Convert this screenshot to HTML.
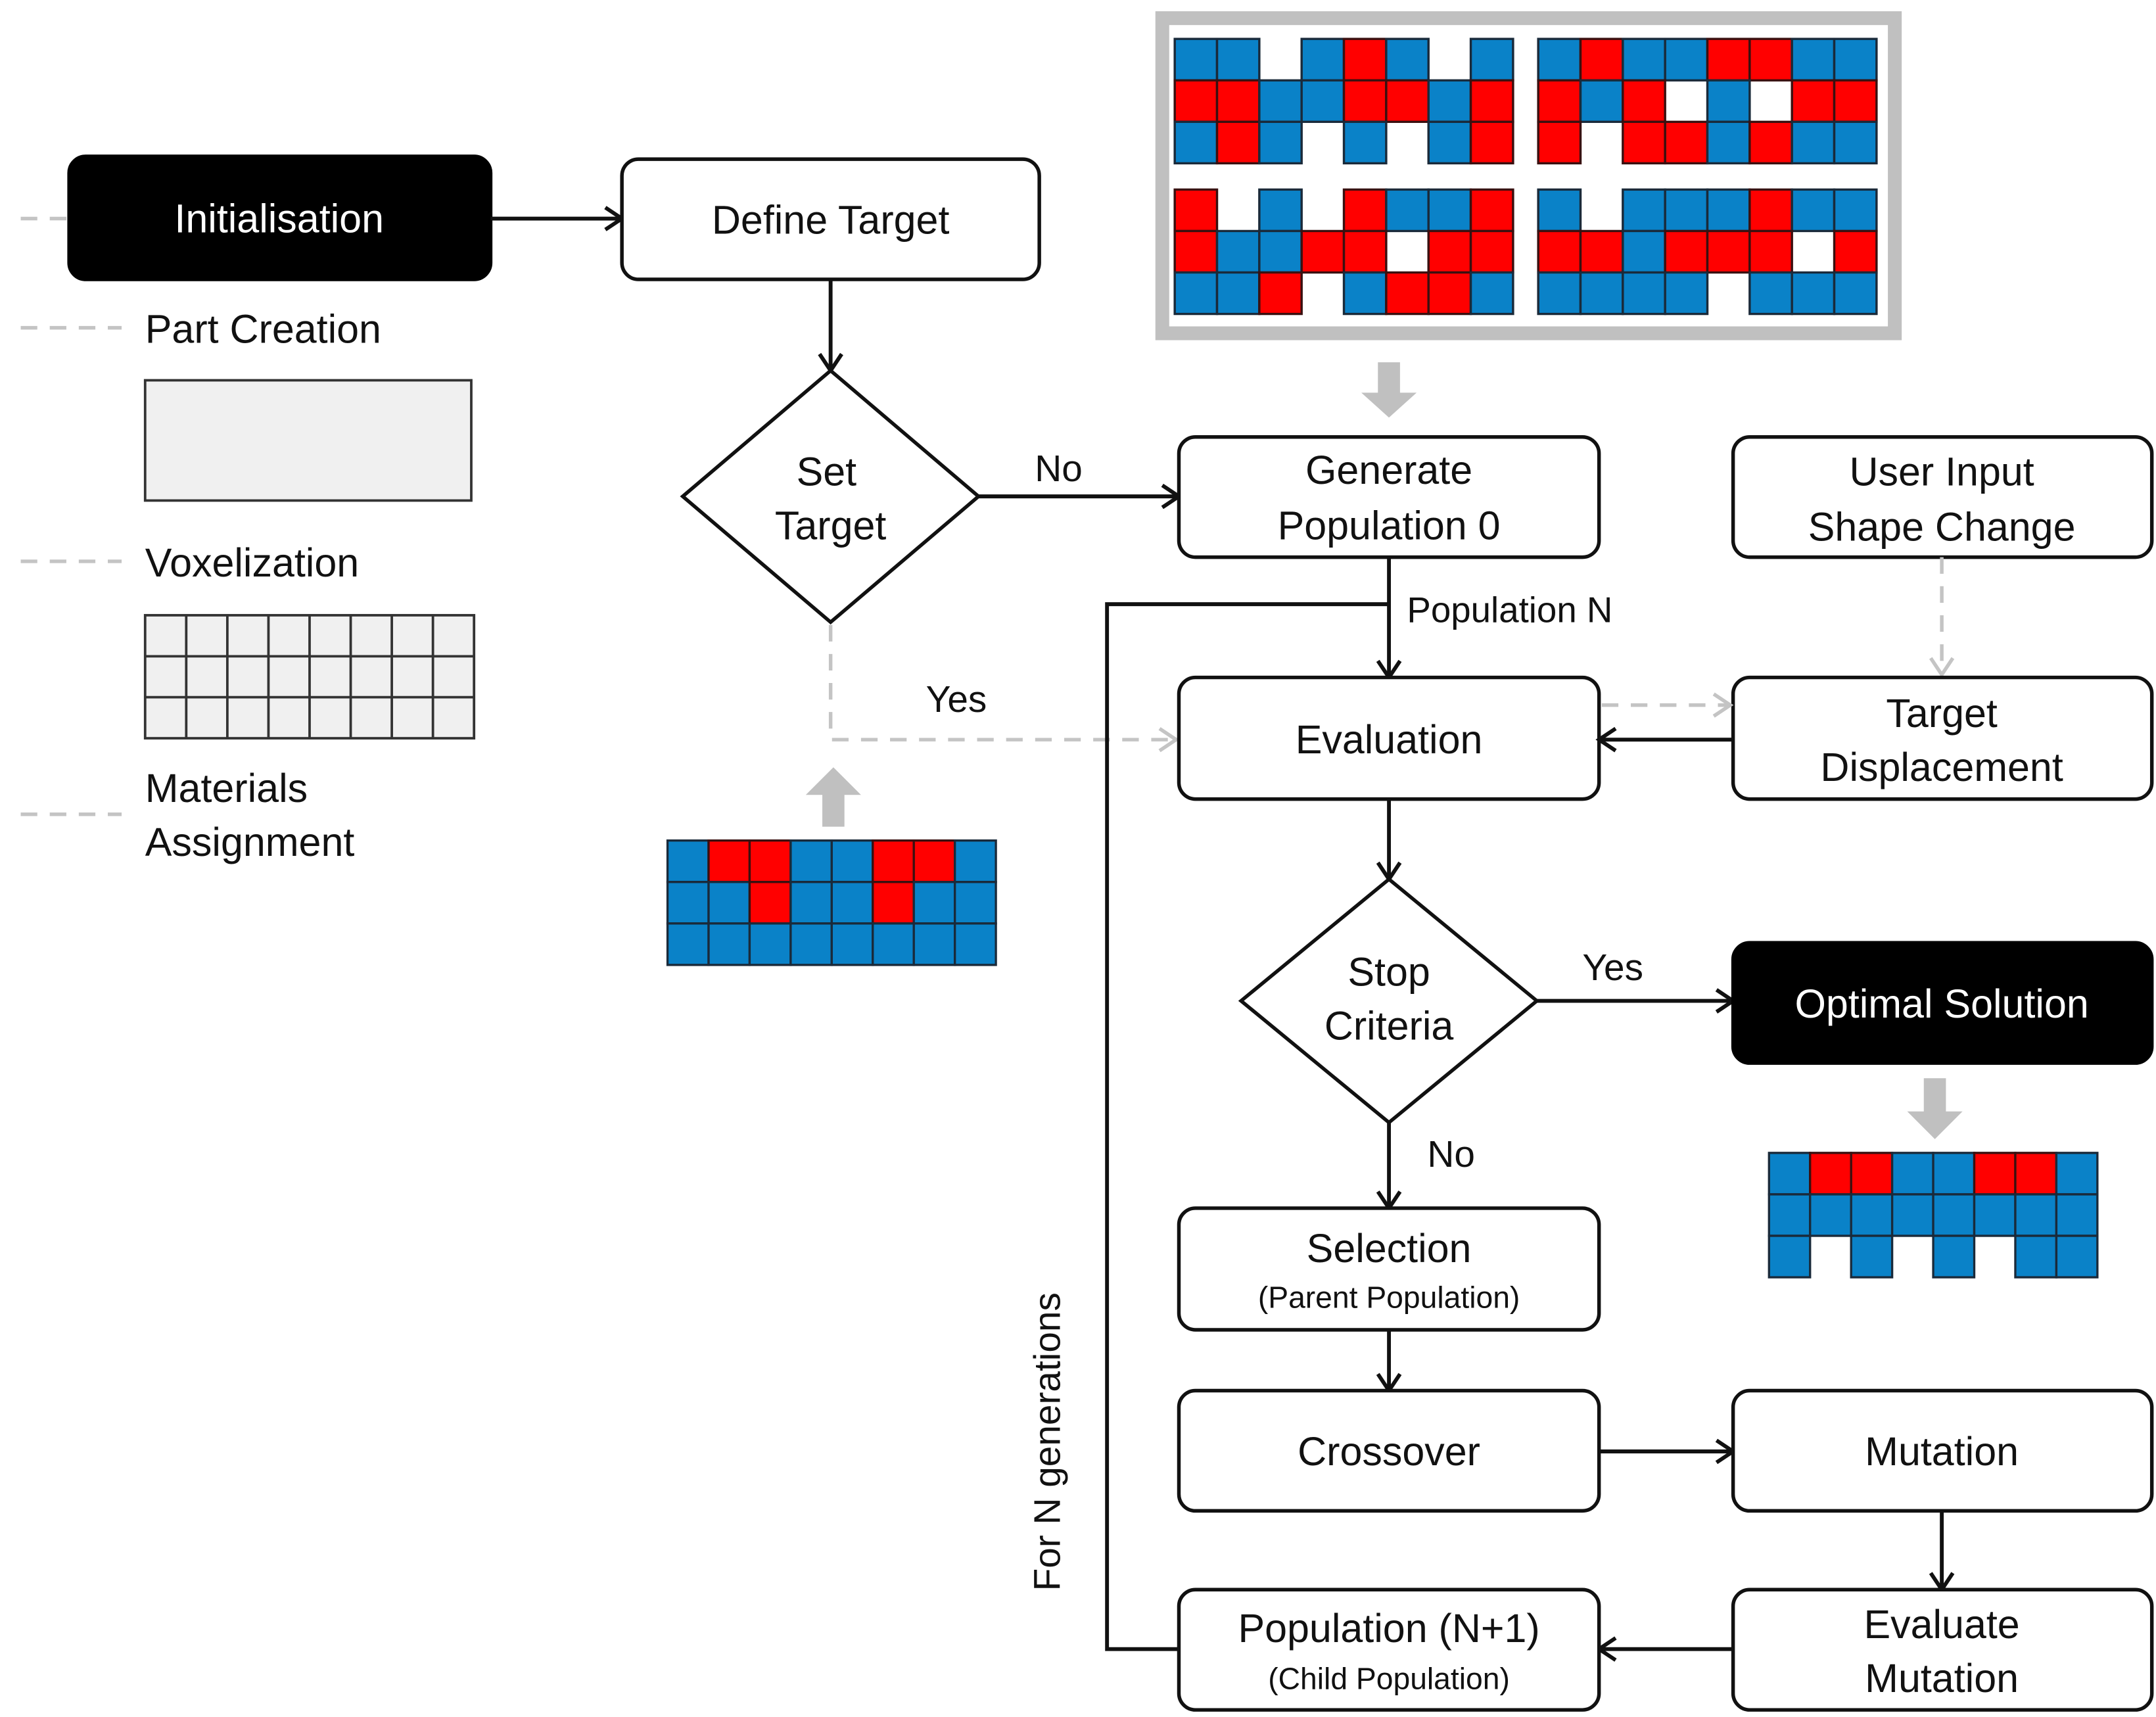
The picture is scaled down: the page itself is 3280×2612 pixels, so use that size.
<!DOCTYPE html>
<html><head><meta charset="utf-8"><style>
html,body{margin:0;padding:0;background:#fff;}
svg{display:block;}
text{font-family:"Liberation Sans",Arial,sans-serif;fill:#111;}
.b{fill:#0a82c8;stroke:#1a2a3a;stroke-width:1.6}
.r{fill:#ff0000;stroke:#3a1010;stroke-width:1.6}
.box{fill:#fff;stroke:#111;stroke-width:2.6}
.blk{fill:#000;stroke:#000;stroke-width:2.6}
.ln{stroke:#111;stroke-width:2.8;fill:none}
.gd{stroke:#c4c4c4;stroke-width:2.6;fill:none;stroke-dasharray:12 9}
.lg{fill:#f0f0f0;stroke:#333;stroke-width:1.8}
</style></head><body>
<svg width="3280" height="2612" viewBox="0 0 1560 1242" xmlns="http://www.w3.org/2000/svg">
<defs>
<marker id="a" markerWidth="20" markerHeight="20" refX="17" refY="10" orient="auto" markerUnits="userSpaceOnUse"><path d="M5,2 L17,10 L5,18" fill="none" stroke="#111" stroke-width="2.8"/></marker>
<marker id="g" markerWidth="20" markerHeight="20" refX="17" refY="10" orient="auto" markerUnits="userSpaceOnUse"><path d="M5,2 L17,10 L5,18" fill="none" stroke="#c4c4c4" stroke-width="2.6"/></marker>
</defs>

<!-- Legend -->
<line x1="15" y1="158" x2="50" y2="158" class="gd"/>
<line x1="15" y1="237" x2="88" y2="237" class="gd"/>
<line x1="15" y1="406" x2="88" y2="406" class="gd"/>
<line x1="15" y1="589" x2="88" y2="589" class="gd"/>
<rect x="50" y="113" width="305" height="89" rx="12" class="blk"/>
<text x="202" y="168" font-size="29" text-anchor="middle" style="fill:#fff">Initialisation</text>
<text x="105" y="248" font-size="29">Part Creation</text>
<rect x="105" y="275" width="236" height="87" class="lg"/>
<text x="105" y="417" font-size="29">Voxelization</text>
<g transform="translate(105,445)">
<rect width="238" height="89" class="lg"/>
<path d="M29.75,0V89M59.5,0V89M89.25,0V89M119,0V89M148.75,0V89M178.5,0V89M208.25,0V89M0,29.7H238M0,59.3H238" stroke="#333" stroke-width="1.8"/>
</g>
<text x="105" y="580" font-size="29">Materials</text>
<text x="105" y="619" font-size="29">Assignment</text>

<!-- Top image -->
<rect x="841" y="13" width="530" height="228" fill="#fff" stroke="#c0c0c0" stroke-width="10"/>
<g transform="translate(850,28) scale(1.02,1)">
<rect x="0" y="0" width="30" height="30" class="b"/><rect x="30" y="0" width="30" height="30" class="b"/><rect x="90" y="0" width="30" height="30" class="b"/><rect x="120" y="0" width="30" height="30" class="r"/><rect x="150" y="0" width="30" height="30" class="b"/><rect x="210" y="0" width="30" height="30" class="b"/>
<rect x="0" y="30" width="30" height="30" class="r"/><rect x="30" y="30" width="30" height="30" class="r"/><rect x="60" y="30" width="30" height="30" class="b"/><rect x="90" y="30" width="30" height="30" class="b"/><rect x="120" y="30" width="30" height="30" class="r"/><rect x="150" y="30" width="30" height="30" class="r"/><rect x="180" y="30" width="30" height="30" class="b"/><rect x="210" y="30" width="30" height="30" class="r"/>
<rect x="0" y="60" width="30" height="30" class="b"/><rect x="30" y="60" width="30" height="30" class="r"/><rect x="60" y="60" width="30" height="30" class="b"/><rect x="120" y="60" width="30" height="30" class="b"/><rect x="180" y="60" width="30" height="30" class="b"/><rect x="210" y="60" width="30" height="30" class="r"/>
</g>
<g transform="translate(1113,28) scale(1.02,1)">
<rect x="0" y="0" width="30" height="30" class="b"/><rect x="30" y="0" width="30" height="30" class="r"/><rect x="60" y="0" width="30" height="30" class="b"/><rect x="90" y="0" width="30" height="30" class="b"/><rect x="120" y="0" width="30" height="30" class="r"/><rect x="150" y="0" width="30" height="30" class="r"/><rect x="180" y="0" width="30" height="30" class="b"/><rect x="210" y="0" width="30" height="30" class="b"/>
<rect x="0" y="30" width="30" height="30" class="r"/><rect x="30" y="30" width="30" height="30" class="b"/><rect x="60" y="30" width="30" height="30" class="r"/><rect x="120" y="30" width="30" height="30" class="b"/><rect x="180" y="30" width="30" height="30" class="r"/><rect x="210" y="30" width="30" height="30" class="r"/>
<rect x="0" y="60" width="30" height="30" class="r"/><rect x="60" y="60" width="30" height="30" class="r"/><rect x="90" y="60" width="30" height="30" class="r"/><rect x="120" y="60" width="30" height="30" class="b"/><rect x="150" y="60" width="30" height="30" class="r"/><rect x="180" y="60" width="30" height="30" class="b"/><rect x="210" y="60" width="30" height="30" class="b"/>
</g>
<g transform="translate(850,137) scale(1.02,1)">
<rect x="0" y="0" width="30" height="30" class="r"/><rect x="60" y="0" width="30" height="30" class="b"/><rect x="120" y="0" width="30" height="30" class="r"/><rect x="150" y="0" width="30" height="30" class="b"/><rect x="180" y="0" width="30" height="30" class="b"/><rect x="210" y="0" width="30" height="30" class="r"/>
<rect x="0" y="30" width="30" height="30" class="r"/><rect x="30" y="30" width="30" height="30" class="b"/><rect x="60" y="30" width="30" height="30" class="b"/><rect x="90" y="30" width="30" height="30" class="r"/><rect x="120" y="30" width="30" height="30" class="r"/><rect x="180" y="30" width="30" height="30" class="r"/><rect x="210" y="30" width="30" height="30" class="r"/>
<rect x="0" y="60" width="30" height="30" class="b"/><rect x="30" y="60" width="30" height="30" class="b"/><rect x="60" y="60" width="30" height="30" class="r"/><rect x="120" y="60" width="30" height="30" class="b"/><rect x="150" y="60" width="30" height="30" class="r"/><rect x="180" y="60" width="30" height="30" class="r"/><rect x="210" y="60" width="30" height="30" class="b"/>
</g>
<g transform="translate(1113,137) scale(1.02,1)">
<rect x="0" y="0" width="30" height="30" class="b"/><rect x="60" y="0" width="30" height="30" class="b"/><rect x="90" y="0" width="30" height="30" class="b"/><rect x="120" y="0" width="30" height="30" class="b"/><rect x="150" y="0" width="30" height="30" class="r"/><rect x="180" y="0" width="30" height="30" class="b"/><rect x="210" y="0" width="30" height="30" class="b"/>
<rect x="0" y="30" width="30" height="30" class="r"/><rect x="30" y="30" width="30" height="30" class="r"/><rect x="60" y="30" width="30" height="30" class="b"/><rect x="90" y="30" width="30" height="30" class="r"/><rect x="120" y="30" width="30" height="30" class="r"/><rect x="150" y="30" width="30" height="30" class="r"/><rect x="210" y="30" width="30" height="30" class="r"/>
<rect x="0" y="60" width="30" height="30" class="b"/><rect x="30" y="60" width="30" height="30" class="b"/><rect x="60" y="60" width="30" height="30" class="b"/><rect x="90" y="60" width="30" height="30" class="b"/><rect x="150" y="60" width="30" height="30" class="b"/><rect x="180" y="60" width="30" height="30" class="b"/><rect x="210" y="60" width="30" height="30" class="b"/>
</g>
<path d="M997,262H1013V284H1025L1005,302L985,284H997Z" fill="#c0c0c0"/>

<!-- Define target / set target -->
<line x1="355" y1="158" x2="450" y2="158" class="ln" marker-end="url(#a)"/>
<rect x="450" y="115" width="302" height="87" rx="12" class="box"/>
<text x="601" y="169" font-size="29" text-anchor="middle">Define Target</text>
<line x1="601" y1="202" x2="601" y2="268" class="ln" marker-end="url(#a)"/>
<path d="M601,268 L708,359 L601,450 L494,359 Z" class="box"/>
<text x="598" y="351" font-size="29" text-anchor="middle">Set</text>
<text x="601" y="390" font-size="29" text-anchor="middle">Target</text>
<text x="766" y="348" font-size="27" text-anchor="middle">No</text>
<line x1="708" y1="359" x2="853" y2="359" class="ln" marker-end="url(#a)"/>
<path d="M601,452 V535 H851" class="gd" marker-end="url(#g)"/>
<text x="692" y="515" font-size="27" text-anchor="middle">Yes</text>
<path d="M603,555L623,575H611V598H595V575H583Z" fill="#c0c0c0"/>
<g transform="translate(483,608) scale(0.99,1)">
<rect x="0" y="0" width="30" height="30" class="b"/><rect x="30" y="0" width="30" height="30" class="r"/><rect x="60" y="0" width="30" height="30" class="r"/><rect x="90" y="0" width="30" height="30" class="b"/><rect x="120" y="0" width="30" height="30" class="b"/><rect x="150" y="0" width="30" height="30" class="r"/><rect x="180" y="0" width="30" height="30" class="r"/><rect x="210" y="0" width="30" height="30" class="b"/>
<rect x="0" y="30" width="30" height="30" class="b"/><rect x="30" y="30" width="30" height="30" class="b"/><rect x="60" y="30" width="30" height="30" class="r"/><rect x="90" y="30" width="30" height="30" class="b"/><rect x="120" y="30" width="30" height="30" class="b"/><rect x="150" y="30" width="30" height="30" class="r"/><rect x="180" y="30" width="30" height="30" class="b"/><rect x="210" y="30" width="30" height="30" class="b"/>
<rect x="0" y="60" width="30" height="30" class="b"/><rect x="30" y="60" width="30" height="30" class="b"/><rect x="60" y="60" width="30" height="30" class="b"/><rect x="90" y="60" width="30" height="30" class="b"/><rect x="120" y="60" width="30" height="30" class="b"/><rect x="150" y="60" width="30" height="30" class="b"/><rect x="180" y="60" width="30" height="30" class="b"/><rect x="210" y="60" width="30" height="30" class="b"/>
</g>

<!-- Generate / user input -->
<rect x="853" y="316" width="304" height="87" rx="12" class="box"/>
<text x="1005" y="350" font-size="29" text-anchor="middle">Generate</text>
<text x="1005" y="390" font-size="29" text-anchor="middle">Population 0</text>
<rect x="1254" y="316" width="303" height="87" rx="12" class="box"/>
<text x="1405" y="351" font-size="29" text-anchor="middle">User Input</text>
<text x="1405" y="391" font-size="29" text-anchor="middle">Shape Change</text>
<line x1="1405" y1="403" x2="1405" y2="488" class="gd" marker-end="url(#g)"/>

<line x1="1005" y1="403" x2="1005" y2="490" class="ln" marker-end="url(#a)"/>
<text x="1018" y="450" font-size="26">Population N</text>
<path d="M1005,437 H801 V1193 H853" class="ln"/>
<text transform="translate(767,1043) rotate(-90)" font-size="27" text-anchor="middle">For N generations</text>

<rect x="853" y="490" width="304" height="88" rx="12" class="box"/>
<text x="1005" y="545" font-size="29" text-anchor="middle">Evaluation</text>
<rect x="1254" y="490" width="303" height="88" rx="12" class="box"/>
<text x="1405" y="526" font-size="29" text-anchor="middle">Target</text>
<text x="1405" y="565" font-size="29" text-anchor="middle">Displacement</text>
<line x1="1159" y1="510" x2="1252" y2="510" class="gd" marker-end="url(#g)"/>
<line x1="1254" y1="535" x2="1157" y2="535" class="ln" marker-end="url(#a)"/>
<line x1="1005" y1="578" x2="1005" y2="636" class="ln" marker-end="url(#a)"/>

<!-- Stop -->
<path d="M1005,636 L1112,724 L1005,812 L898,724 Z" class="box"/>
<text x="1005" y="713" font-size="29" text-anchor="middle">Stop</text>
<text x="1005" y="752" font-size="29" text-anchor="middle">Criteria</text>
<text x="1167" y="709" font-size="27" text-anchor="middle">Yes</text>
<line x1="1112" y1="724" x2="1254" y2="724" class="ln" marker-end="url(#a)"/>
<rect x="1254" y="682" width="303" height="87" rx="12" class="blk"/>
<text x="1405" y="736" font-size="29" text-anchor="middle" style="fill:#fff">Optimal Solution</text>
<path d="M1392,780H1408V804H1420L1400,824L1380,804H1392Z" fill="#c0c0c0"/>
<g transform="translate(1280,834) scale(0.99,1)">
<rect x="0" y="0" width="30" height="30" class="b"/><rect x="30" y="0" width="30" height="30" class="r"/><rect x="60" y="0" width="30" height="30" class="r"/><rect x="90" y="0" width="30" height="30" class="b"/><rect x="120" y="0" width="30" height="30" class="b"/><rect x="150" y="0" width="30" height="30" class="r"/><rect x="180" y="0" width="30" height="30" class="r"/><rect x="210" y="0" width="30" height="30" class="b"/>
<rect x="0" y="30" width="30" height="30" class="b"/><rect x="30" y="30" width="30" height="30" class="b"/><rect x="60" y="30" width="30" height="30" class="b"/><rect x="90" y="30" width="30" height="30" class="b"/><rect x="120" y="30" width="30" height="30" class="b"/><rect x="150" y="30" width="30" height="30" class="b"/><rect x="180" y="30" width="30" height="30" class="b"/><rect x="210" y="30" width="30" height="30" class="b"/>
<rect x="0" y="60" width="30" height="30" class="b"/><rect x="60" y="60" width="30" height="30" class="b"/><rect x="120" y="60" width="30" height="30" class="b"/><rect x="180" y="60" width="30" height="30" class="b"/><rect x="210" y="60" width="30" height="30" class="b"/>
</g>

<text x="1050" y="844" font-size="27" text-anchor="middle">No</text>
<line x1="1005" y1="812" x2="1005" y2="874" class="ln" marker-end="url(#a)"/>
<rect x="853" y="874" width="304" height="88" rx="12" class="box"/>
<text x="1005" y="913" font-size="29" text-anchor="middle">Selection</text>
<text x="1005" y="946" font-size="22" text-anchor="middle">(Parent Population)</text>
<line x1="1005" y1="962" x2="1005" y2="1006" class="ln" marker-end="url(#a)"/>
<rect x="853" y="1006" width="304" height="87" rx="12" class="box"/>
<text x="1005" y="1060" font-size="29" text-anchor="middle">Crossover</text>
<line x1="1157" y1="1050" x2="1254" y2="1050" class="ln" marker-end="url(#a)"/>
<rect x="1254" y="1006" width="303" height="87" rx="12" class="box"/>
<text x="1405" y="1060" font-size="29" text-anchor="middle">Mutation</text>
<line x1="1405" y1="1093" x2="1405" y2="1150" class="ln" marker-end="url(#a)"/>
<rect x="1254" y="1150" width="303" height="87" rx="12" class="box"/>
<text x="1405" y="1185" font-size="29" text-anchor="middle">Evaluate</text>
<text x="1405" y="1224" font-size="29" text-anchor="middle">Mutation</text>
<line x1="1254" y1="1193" x2="1157" y2="1193" class="ln" marker-end="url(#a)"/>
<rect x="853" y="1150" width="304" height="87" rx="12" class="box"/>
<text x="1005" y="1188" font-size="29" text-anchor="middle">Population (N+1)</text>
<text x="1005" y="1222" font-size="22" text-anchor="middle">(Child Population)</text>
</svg>
</body></html>
